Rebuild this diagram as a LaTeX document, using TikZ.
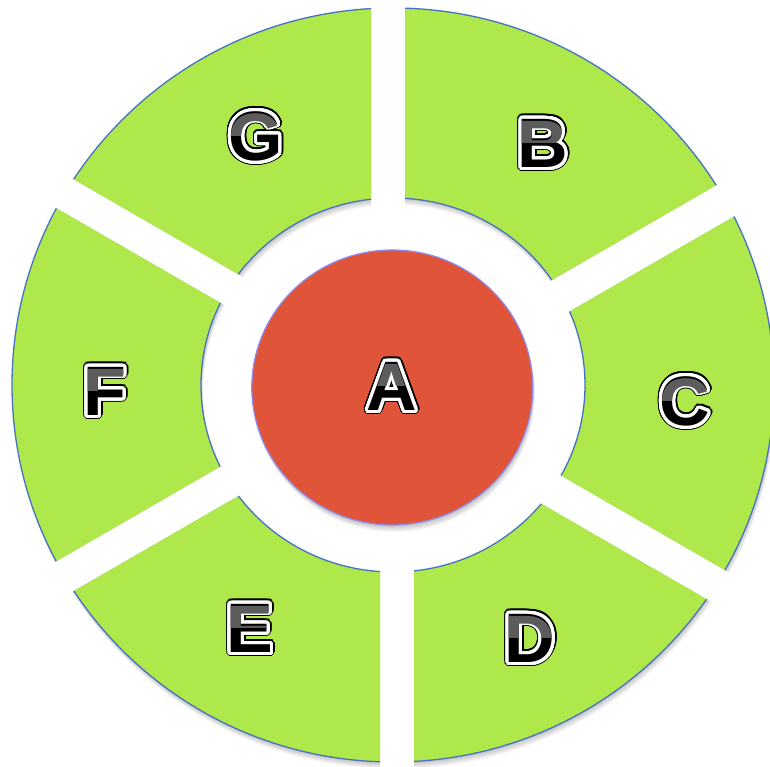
\documentclass[tikz,border=0pt]{standalone}
\usepackage{fontspec}
\setmainfont{Liberation Sans}
\usepackage{contour}
\contournumber{32}
\usetikzlibrary{calc}
\definecolor{ringgreen}{RGB}{174,232,74}
\definecolor{ringblue}{RGB}{70,114,196}
\definecolor{hubred}{RGB}{224,85,57}
\definecolor{hubline}{RGB}{140,140,245}
\definecolor{lettop}{RGB}{92,92,92}
\tikzset{
  lbl/.style={inner sep=0pt, font=\fontsize{70}{70}\selectfont\bfseries, text=black},
}
\newcommand\seglabel[3]{%
  \node[lbl] (#1o) at (#2) {\contourlength{4.6pt}\contour{black}{#3}};
  \node[lbl] (#1w) at (#2) {\contourlength{3.2pt}\contour{white}{#3}};
  \begin{scope}
    \clip ($(#2)+(-60,2)$) rectangle ($(#2)+(60,60)$);
    \node[lbl, text=lettop] (#1) at (#2) {#3};
  \end{scope}
}
\begin{document}
\begin{tikzpicture}[x=1pt,y=1pt]
\useasboundingbox (0,0) rectangle (770,767);
\coordinate (O) at (393,382);
\coordinate (H) at (392.3,379.5);
% ring segments
\begin{scope}[even odd rule]
  \clip (-30,-30) rectangle (800,800)
    \foreach \a/\sa/\sb in {90/-22/12, 30/-11.4/24.6, -30/-5.6/28.7, 270/-21/13, 210/-18.8/15.7, 150/-15.2/18.5}
    { ($(O)+(\a:130)+(\a-90:\sa)$) -- ($(O)+(\a:130)+(\a-90:\sb)$) -- ($(O)+(\a:480)+(\a-90:\sb)$) -- ($(O)+(\a:480)+(\a-90:\sa)$) -- cycle };
  \foreach \k in {1,...,7}
    \fill[black, opacity=0.035] ($(O)+(0.3*\k,-\k)$) ellipse [x radius=381, y radius=377] ($(O)+(0.3*\k,-\k)$) ellipse [x radius=192, y radius=187];
  \fill[ringgreen] (O) ellipse [x radius=381, y radius=377] (O) ellipse [x radius=192, y radius=187];
  \draw[ringblue, line width=1.3pt] (O) ellipse [x radius=381, y radius=377];
  \draw[ringblue, line width=1.3pt] (O) ellipse [x radius=192, y radius=187];
\end{scope}
% hub
\foreach \k in {1,...,7}
  \fill[black, opacity=0.035] ($(H)+(0.3*\k,-\k)$) ellipse [x radius=140.5, y radius=137.5];
\fill[hubred] (H) ellipse [x radius=140.5, y radius=137.5];
\draw[hubline, line width=1.2pt] (H) ellipse [x radius=140.5, y radius=137.5];
% labels
\seglabel{A}{392,379}{A}
\seglabel{G}{256,629}{G}
\seglabel{B}{543,622}{B}
\seglabel{C}{685,364}{C}
\seglabel{D}{530,127}{D}
\seglabel{E}{250,137}{E}
\seglabel{F}{105,374}{F}
\end{tikzpicture}
\end{document}
